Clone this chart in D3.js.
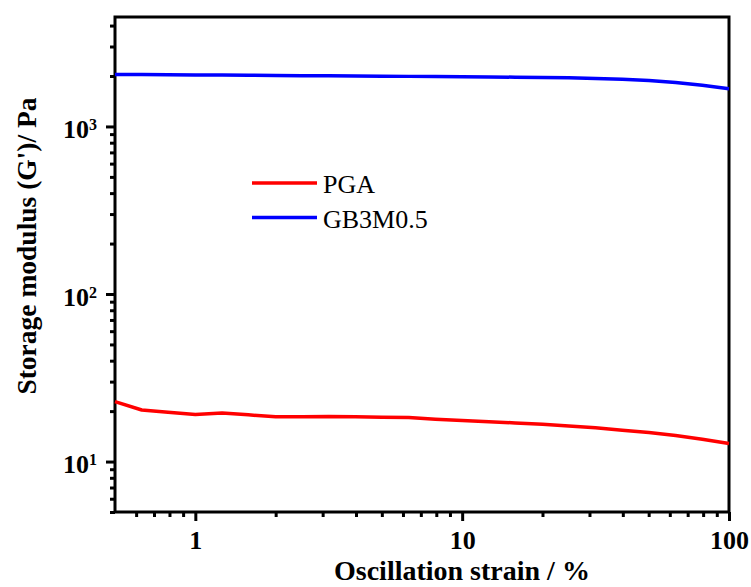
<!DOCTYPE html>
<html>
<head>
<meta charset="utf-8">
<script src="https://cdn.jsdelivr.net/npm/d3@7"></script>
<style>
  body { margin: 0; background: #fff; }
  text { font-family: "Liberation Serif", "Times New Roman", serif; }
</style>
</head>
<body>
<svg id="plot"></svg>
<script>
let dimensions = {
    width: 751,
    height: 587,
    left: 115,
    right: 729,
    top: 17,
    bottom: 512,
};

// strain values (%)
const strain = [0.5, 0.63, 0.79, 1, 1.26, 1.58, 2, 2.51, 3.16, 3.98, 5.01, 6.31, 7.94,
    10, 12.6, 15.8, 20, 25.1, 31.6, 39.8, 50.1, 63.1, 79.4, 100];
// storage modulus G' (Pa)
const pga = [22.8, 20.3, 19.7, 19.1, 19.5, 19.0, 18.5, 18.5, 18.6, 18.5, 18.4, 18.3, 17.9,
    17.6, 17.3, 17.0, 16.7, 16.3, 15.9, 15.4, 14.9, 14.3, 13.6, 12.8];
const gb3m = [2040, 2040, 2035, 2030, 2025, 2020, 2015, 2010, 2005, 2000, 1995, 1990, 1985,
    1980, 1975, 1968, 1960, 1950, 1935, 1915, 1880, 1830, 1760, 1680];

const seriesNames = ["PGA", "GB3M0.5"];
const seriesColors = ["#ff0000", "#0000ff"];

const xMajor = [1, 10, 100];
const xMinor = [0.6, 0.7, 0.8, 0.9, 2, 3, 4, 5, 6, 7, 8, 9, 20, 30, 40, 50, 60, 70, 80, 90];
const yMajor = [10, 100, 1000];
const yExp = [1, 2, 3];
const yMinor = [5, 6, 7, 8, 9, 20, 30, 40, 50, 60, 70, 80, 90,
    200, 300, 400, 500, 600, 700, 800, 900, 2000, 3000, 4000];

const svg = d3.select("#plot")
    .attr("width", dimensions.width)
    .attr("height", dimensions.height);

const xScale = d3.scaleLog()
    .domain([0.5, 100])
    .range([dimensions.left, dimensions.right]);

const yScale = d3.scaleLog()
    .domain([5, 4500])
    .range([dimensions.bottom, dimensions.top]);

// minor ticks
svg.append("g")
    .attr("transform", `translate(0, ${dimensions.bottom})`)
    .call(d3.axisBottom(xScale).tickValues(xMinor).tickSize(5).tickFormat(""))
    .call(g => g.select(".domain").remove())
    .selectAll("line").attr("stroke-width", 3);

svg.append("g")
    .attr("transform", `translate(${dimensions.left}, 0)`)
    .call(d3.axisLeft(yScale).tickValues(yMinor).tickSize(5).tickFormat(""))
    .call(g => g.select(".domain").remove())
    .selectAll("line").attr("stroke-width", 3);

// major ticks
const xAx = svg.append("g")
    .attr("transform", `translate(0, ${dimensions.bottom})`)
    .call(d3.axisBottom(xScale).tickValues(xMajor).tickSize(9).tickPadding(10).tickFormat(d3.format("d")))
    .call(g => g.select(".domain").remove());
xAx.selectAll("line").attr("stroke-width", 3);
xAx.selectAll("text")
    .attr("font-size", 26)
    .attr("font-weight", "bold")
    .attr("fill", "#000");

const yAx = svg.append("g")
    .attr("transform", `translate(${dimensions.left}, 0)`)
    .call(d3.axisLeft(yScale).tickValues(yMajor).tickSize(9).tickPadding(9).tickFormat(""))
    .call(g => g.select(".domain").remove());
yAx.selectAll("line").attr("stroke-width", 3);
yAx.selectAll(".tick text")
    .attr("font-size", 26)
    .attr("font-weight", "bold")
    .attr("fill", "#000")
    .attr("dy", 11)
    .each(function (d, i) {
        const t = d3.select(this);
        t.append("tspan").text("10");
        t.append("tspan").attr("font-size", 16).attr("dy", -8).text(yExp[i]);
    });

// frame
svg.append("rect")
    .attr("x", dimensions.left)
    .attr("y", dimensions.top)
    .attr("width", dimensions.right - dimensions.left)
    .attr("height", dimensions.bottom - dimensions.top)
    .attr("fill", "none")
    .attr("stroke", "#000")
    .attr("stroke-width", 3);

// lines
const line = d3.line()
    .x((d, i) => xScale(strain[i]))
    .y(d => yScale(d));

[pga, gb3m].forEach((vals, k) => {
    svg.append("path")
        .datum(vals)
        .attr("d", line)
        .attr("fill", "none")
        .attr("stroke", seriesColors[k])
        .attr("stroke-width", 3.5)
        .attr("stroke-linejoin", "round");
});

// legend
const legend = svg.append("g");
seriesNames.forEach((name, k) => {
    const ly = 183 + k * 34.5;
    legend.append("line")
        .attr("x1", 252).attr("x2", 317)
        .attr("y1", ly).attr("y2", ly)
        .attr("stroke", seriesColors[k])
        .attr("stroke-width", 3.5);
    legend.append("text")
        .attr("x", 323)
        .attr("y", ly + 10)
        .attr("font-size", 26)
        .text(name);
});

// axis titles
svg.append("text")
    .attr("x", 334)
    .attr("y", 580)
    .attr("font-size", 28)
    .attr("font-weight", "bold")
    .text("Oscillation strain / %");

svg.append("text")
    .attr("transform", "translate(36, 246) rotate(-90)")
    .attr("text-anchor", "middle")
    .attr("font-size", 27.5)
    .attr("font-weight", "bold")
    .text("Storage modulus (G')/ Pa");
</script>
</body>
</html>
